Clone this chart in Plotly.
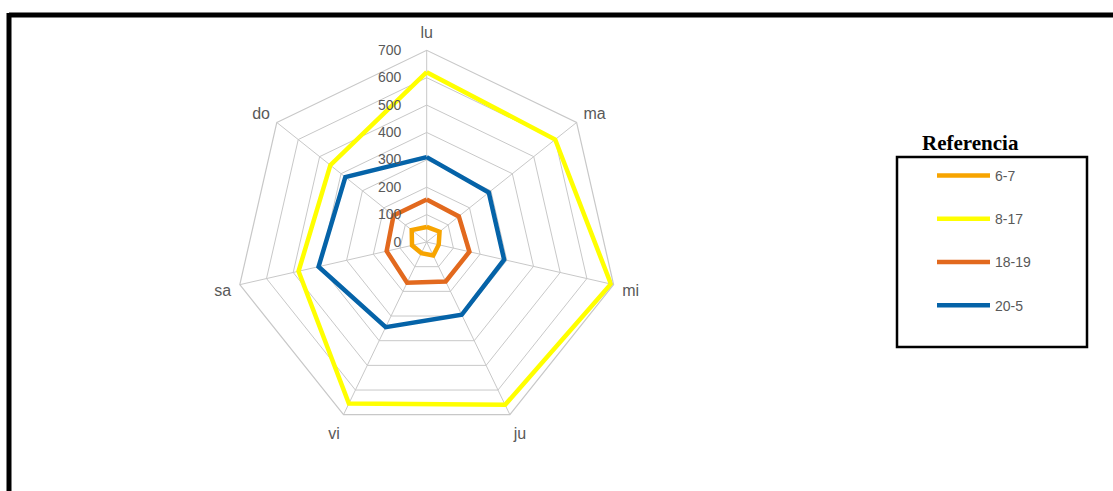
import plotly.graph_objects as go

W, H = 1113, 491

categories = ['lu', 'ma', 'mi', 'ju', 'vi', 'sa', 'do']
series_names = ['6-7', '8-17', '18-19', '20-5']
s_6_7 = [55, 60, 45, 55, 45, 55, 70]
s_8_17 = [620, 600, 690, 660, 655, 480, 450]
s_18_19 = [155, 150, 160, 160, 165, 150, 155]
s_20_5 = [310, 290, 290, 295, 345, 405, 380]
tick_vals = [0, 100, 200, 300, 400, 500, 600, 700]

colors = ['#F7A400', '#FFFF00', '#E2691E', '#0563A8']
series = [s_6_7, s_8_17, s_18_19, s_20_5]

fig = go.Figure()
for i, (name, vals, col) in enumerate(zip(series_names, series, colors)):
    fig.add_trace(go.Scatterpolar(
        r=vals + vals[:1],
        theta=categories + categories[:1],
        mode='lines',
        name=name,
        legendgroup=name,
        line=dict(color=col, width=4.5),
    ))

cx, cy, R = 426.7, 242.0, 191.7
fig.update_layout(
    width=W, height=H,
    margin=dict(l=0, r=0, t=0, b=0),
    paper_bgcolor='white',
    plot_bgcolor='white',
    showlegend=True,
    polar=dict(
        domain=dict(x=[(cx - R) / W, (cx + R) / W], y=[1 - (cy + R) / H, 1 - (cy - R) / H]),
        bgcolor='white',
        gridshape='linear',
        radialaxis=dict(
            range=[0, 700], tickvals=tick_vals, ticktext=[str(v) for v in tick_vals],
            angle=90, side='counterclockwise', showline=False,
            ticks='outside', ticklen=20, tickcolor='rgba(0,0,0,0)',
            tickangle=90,
            gridcolor='#c8c8c8', gridwidth=1.2,
            tickfont=dict(family='Liberation Sans', size=14, color='#595959'),
        ),
        angularaxis=dict(
            rotation=90, direction='clockwise',
            gridcolor='#c8c8c8', gridwidth=1.2,
            linecolor='#c8c8c8', linewidth=1.2, showline=True,
            ticks='outside', ticklen=5, tickcolor='rgba(0,0,0,0)',
            tickfont=dict(family='Liberation Sans', size=16, color='#595959'),
        ),
    ),
    legend=dict(
        x=932 / W, y=1 - 160 / H, xanchor='left', yanchor='top',
        bgcolor='rgba(0,0,0,0)', borderwidth=0,
        tracegroupgap=22, itemwidth=53,
        font=dict(family='Liberation Sans', size=14, color='#595959'),
    ),
    shapes=[
        dict(type='line', xref='paper', yref='paper', x0=9 / W, x1=1.0, y0=1 - 15 / H, y1=1 - 15 / H,
             line=dict(color='black', width=5)),
        dict(type='line', xref='paper', yref='paper', x0=9 / W, x1=9 / W, y0=1 - 13 / H, y1=0,
             line=dict(color='black', width=5)),
        dict(type='rect', xref='paper', yref='paper', x0=897 / W, x1=1087 / W, y0=1 - 347 / H, y1=1 - 157 / H,
             line=dict(color='black', width=2.5)),
    ],
    annotations=[
        dict(text='<b>Referencia</b>', xref='paper', yref='paper', x=970 / W, y=1 - 143 / H,
             xanchor='center', yanchor='middle', showarrow=False,
             font=dict(family='Liberation Serif', size=21, color='black')),
    ],
)

fig.write_html('out.html')
